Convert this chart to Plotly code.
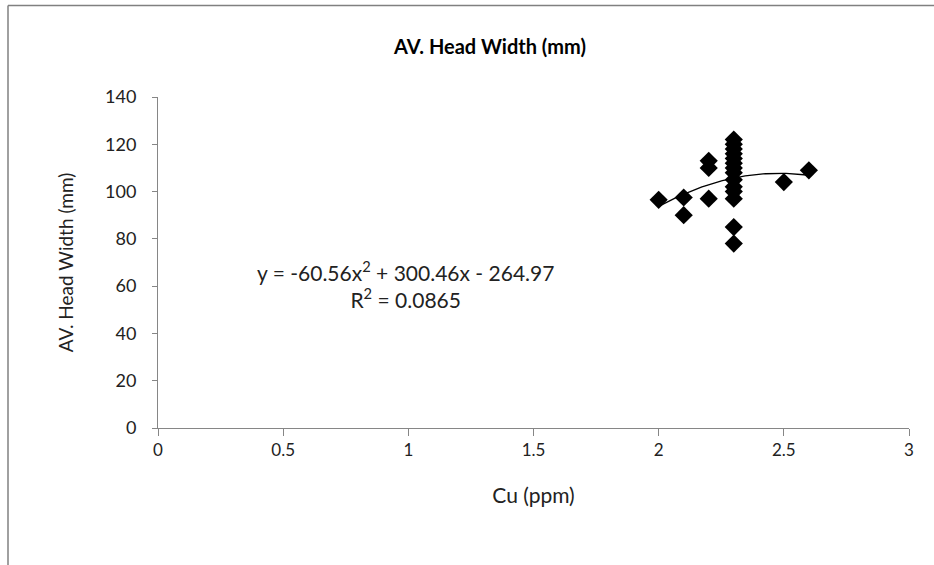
import numpy as np
import plotly.graph_objects as go

# Data
cu_ppm = [2.0, 2.1, 2.1, 2.2, 2.2, 2.2,
          2.3, 2.3, 2.3, 2.3, 2.3, 2.3, 2.3, 2.3, 2.3, 2.3, 2.3, 2.3, 2.3, 2.3,
          2.5, 2.6]
head_width = [96.5, 97.5, 90, 113, 110, 97,
              122, 120, 118, 116, 114, 112, 110, 108, 105, 102, 100, 97, 85, 78,
              104, 109]

# Polynomial trendline coefficients (as shown on chart)
trend_coef = [-60.56, 300.46, -264.97]
trend_eq = "y = -60.56x<sup>2</sup> + 300.46x - 264.97<br>R<sup>2</sup> = 0.0865"

x_ticks = [0, 0.5, 1, 1.5, 2, 2.5, 3]
y_ticks = [0, 20, 40, 60, 80, 100, 120, 140]

xt = np.linspace(min(cu_ppm), max(cu_ppm), 60)
yt = np.polyval(trend_coef, xt)

FONT = "Lato"
AX = "#868686"

fig = go.Figure()
fig.add_trace(go.Scatter(x=xt, y=yt, mode="lines",
                         line=dict(color="black", width=1.3),
                         hoverinfo="skip", showlegend=False))
fig.add_trace(go.Scatter(x=cu_ppm, y=head_width, mode="markers",
                         marker=dict(symbol="diamond", size=14, color="black"),
                         showlegend=False))

fig.add_annotation(x=0.99, y=60.5, xref="x", yref="y", text=trend_eq,
                   showarrow=False, align="center",
                   font=dict(family=FONT, size=21, color="#222"))

fig.update_layout(
    width=934, height=565,
    margin=dict(l=158, r=25, t=97, b=137),
    paper_bgcolor="white", plot_bgcolor="white",
    title=dict(text="<b>AV. Head Width (mm)</b>", x=490/934, xanchor="center",
               y=1 - 47/565, yanchor="middle",
               font=dict(family=FONT, size=20, color="black")),
    font=dict(family=FONT, color="#222"),
    xaxis=dict(range=[0, 3], tickvals=x_ticks, ticktext=[str(v) for v in x_ticks],
               showgrid=False, zeroline=False, showline=True, linecolor=AX,
               linewidth=1, ticks="outside", ticklen=7, tickcolor=AX,
               tickfont=dict(family=FONT, size=17, color="#222"),
               ticklabelstandoff=0,
               title=dict(text="Cu (ppm)", standoff=28,
                          font=dict(family=FONT, size=21, color="#222"))),
    yaxis=dict(range=[0, 140], tickvals=y_ticks,
               showgrid=False, zeroline=False, showline=True, linecolor=AX,
               linewidth=1, ticks="outside", ticklen=5, tickcolor=AX,
               tickfont=dict(family=FONT, size=18, color="#222"),
               ticklabelstandoff=12,
               title=dict(text="AV. Head Width (mm)", standoff=26,
                          font=dict(family=FONT, size=19, color="#222"))),
)

# Chart-area border (left and top edges visible)
x0 = (8 - 158) / 751
ytop = (428.3 - 5) / 331.7
fig.add_shape(type="line", xref="paper", yref="paper", x0=x0, x1=x0, y0=ytop, y1=-0.5,
              line=dict(color="#808080", width=1.5))
fig.add_shape(type="line", xref="paper", yref="paper", x0=x0, x1=1.2, y0=ytop, y1=ytop,
              line=dict(color="#808080", width=1.5))

fig.write_html("out.html", config={"displayModeBar": False},
               post_script="document.body.style.margin='0';")
